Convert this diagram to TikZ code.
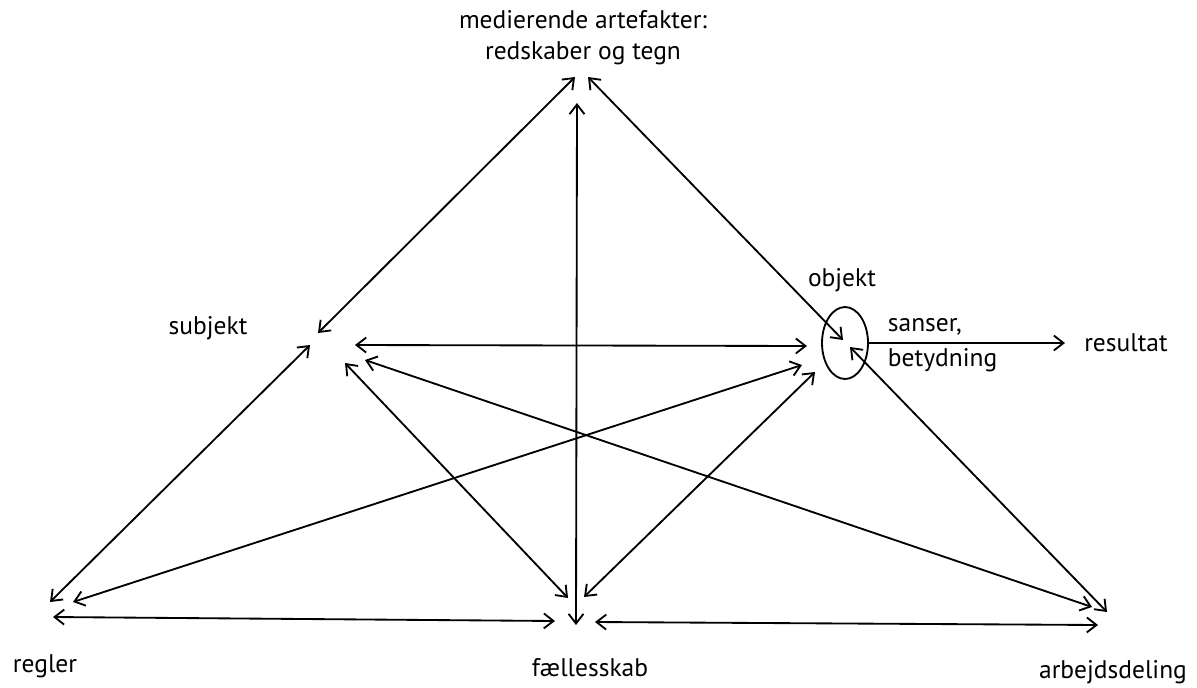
\documentclass[tikz,border=0pt]{standalone}
\usepackage{fontspec}
\setmainfont{PT Sans}
\usetikzlibrary{arrows.meta,shapes.geometric}

\begin{document}
\begin{tikzpicture}[x=0.02cm, y=-0.02cm, line width=1.05pt,
  >={Straight Barb[length=5.5pt,width=8.5pt]},
  link/.style={<->},
  lbl/.style={font=\fontsize{14.5}{17.6}\selectfont, inner sep=0pt}]
  \useasboundingbox (0,0) rectangle (1197,687);
  % labels
  \node[lbl, align=center] (med) at (583,38) {medierende artefakter:\\redskaber og tegn};
  \node[lbl] (sub) at (208,328) {subjekt};
  \node[lbl] (objlbl) at (842,280) {objekt};
  \node[lbl, align=left, anchor=west] (sans) at (887,345) {sanser,\\[2.5pt]betydning};
  \node[lbl] (res) at (1126,343) {resultat};
  \node[lbl] (reg) at (45,666) {regler};
  \node[lbl] (fael) at (590,668) {fællesskab};
  \node[lbl] (arb) at (1113,672) {arbejdsdeling};
  \node[draw, ellipse, minimum width=0.92cm, minimum height=1.44cm, inner sep=0pt] (obj) at (845,343) {};
  % end points
  \coordinate (m-s) at (575,77);   \coordinate (s-m) at (318,333);
  \coordinate (s-r) at (310,345);  \coordinate (r-s) at (50,602);
  \coordinate (m-o) at (588,77);   \coordinate (o-m) at (843,340);
  \coordinate (o-a) at (850,347);  \coordinate (a-o) at (1107,612);
  \coordinate (m-f) at (577,103);  \coordinate (f-m) at (576,625);
  \coordinate (s-o) at (355,345);  \coordinate (o-s) at (807,346);
  \coordinate (s-f) at (345,363);  \coordinate (f-s) at (568,598);
  \coordinate (s-a) at (365,360);  \coordinate (a-s) at (1092,607);
  \coordinate (o-r) at (802,365);  \coordinate (r-o) at (73,602);
  \coordinate (o-f) at (815,372);  \coordinate (f-o) at (584,597);
  \coordinate (r-f) at (53,617);   \coordinate (f-r) at (555,621);
  \coordinate (f-a) at (595,622);  \coordinate (a-f) at (1098,625);
  \coordinate (res-in) at (1065,343);
  % triangle
  \draw[link] (m-s) -- (s-m);
  \draw[link] (s-r) -- (r-s);
  \draw[link] (m-o) -- (o-m);
  \draw[link] (o-a) -- (a-o);
  \draw[link] (m-f) -- (f-m);
  \draw[link] (s-o) -- (o-s);
  \draw[link] (s-f) -- (f-s);
  \draw[link] (s-a) -- (a-s);
  \draw[link] (o-r) -- (r-o);
  \draw[link] (o-f) -- (f-o);
  \draw[link] (r-f) -- (f-r);
  \draw[link] (f-a) -- (a-f);
  \draw[->] (obj.east) -- (res-in);
\end{tikzpicture}
\end{document}
